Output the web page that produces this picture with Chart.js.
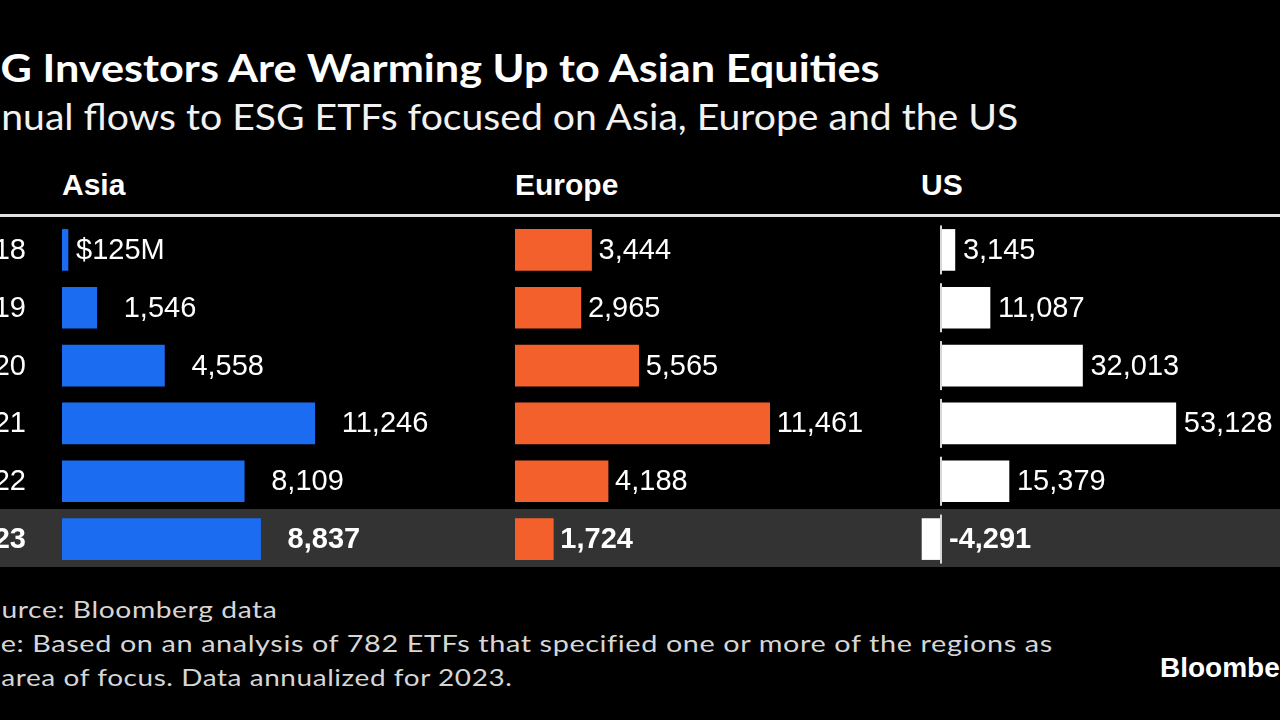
<!DOCTYPE html>
<html>
<head>
<meta charset="utf-8">
<script src="https://cdn.jsdelivr.net/npm/chart.js@4.4.0/dist/chart.umd.min.js"></script>
<style>
  body { margin: 0; background: #000; width: 1280px; height: 720px; overflow: hidden; position: relative; color: #fff; }
  .txt { position: absolute; white-space: nowrap; transform-origin: 0 0; }
  #title { font: bold 39px/1 Lato, sans-serif; top: 48px; }
  #subtitle { font: 36px/1 Lato, sans-serif; top: 98px; color: #f2f2f2; }
  .head { font: bold 30px/1 "Liberation Sans", Arial, sans-serif; top: 170px; }
  #rule { position: absolute; left: 0; top: 214px; width: 1280px; height: 3px; background: #e2e2e2; }
  #band { position: absolute; left: 0; top: 509px; width: 1280px; height: 58px; background: #333; }
  canvas { position: absolute; top: 221px; }
  .foot { font: 24px/1 Lato, sans-serif; letter-spacing: 0.5px; color: #d6d6d6; }
  #logo { font: bold 28px/1 "Liberation Sans", Arial, sans-serif; left: 1160px; top: 654px; }
</style>
</head>
<body>
<div id="title" class="txt" data-x="1" data-w="879"><span class="cut">ES</span>G Investors Are Warming Up to Asian Equities</div>
<div id="subtitle" class="txt" data-x="1" data-w="1017"><span class="cut">An</span>nual flows to ESG ETFs focused on Asia, Europe and the US</div>

<div class="txt head" style="left:62px">Asia</div>
<div class="txt head" style="left:515px">Europe</div>
<div class="txt head" style="left:921px">US</div>
<div id="rule"></div>
<div id="band"></div>

<canvas id="asiaChart" width="462" height="347" style="left:0"></canvas>
<canvas id="europeChart" width="400" height="347" style="left:515px"></canvas>
<canvas id="usChart" width="400" height="347" style="left:880px"></canvas>

<div class="txt foot" style="top:597px" data-x="1" data-w="276"><span class="cut">So</span>urce: Bloomberg data</div>
<div class="txt foot" style="top:631px" data-x="1" data-w="1052"><span class="cut">Not</span>e: Based on an analysis of 782 ETFs that specified one or more of the regions as</div>
<div class="txt foot" style="top:665px" data-x="1" data-w="511"><span class="cut">an </span>area of focus. Data annualized for 2023.</div>
<div id="logo" class="txt">Bloomberg</div>

<script>
// data (US$ millions)
const years = ['2018', '2019', '2020', '2021', '2022', '2023'];
const asiaFlows = [125, 1546, 4558, 11246, 8109, 8837];
const europeFlows = [3444, 2965, 5565, 11461, 4188, 1724];
const usFlows = [3145, 11087, 32013, 53128, 15379, -4291];
const highlightRow = 5;

// titles and footnotes are cut off on the left, like the screenshot,
// and stretched a bit to the width they have there
document.querySelectorAll('[data-x]').forEach(el => {
    const cut = el.querySelector('.cut').getBoundingClientRect().width;
    const full = el.getBoundingClientRect().width;
    const s = parseFloat(el.dataset.w) / (full - cut);
    el.style.transform = 'scaleX(' + s + ')';
    el.style.left = (parseFloat(el.dataset.x) - cut * s) + 'px';
});

const labelFont = (i) => (i === highlightRow ? 'bold ' : '') + '29px "Liberation Sans", Arial, sans-serif';
const fmt = v => v.toLocaleString('en-US');

// value labels, year labels and the zero line
const valueLabels = {
    id: 'valueLabels',
    afterDatasetsDraw(chart, args, opts) {
        const ctx = chart.ctx;
        const meta = chart.getDatasetMeta(0);
        const values = chart.data.datasets[0].data;
        ctx.save();
        ctx.fillStyle = '#fff';
        ctx.textBaseline = 'middle';
        meta.data.forEach((bar, i) => {
            if (opts.zeroLine) {
                ctx.strokeStyle = '#d8d8d8';
                ctx.lineWidth = 2;
                ctx.beginPath();
                ctx.moveTo(bar.base, bar.y - bar.height / 2 - 4);
                ctx.lineTo(bar.base, bar.y + bar.height / 2 + 4);
                ctx.stroke();
            }
            ctx.font = labelFont(i);
            ctx.textAlign = 'left';
            const gap = typeof opts.gap === 'function' ? opts.gap(i) : opts.gap;
            ctx.fillText(opts.format(values[i], i), Math.max(bar.x, bar.base) + gap, bar.y + 1);
        });
        if (opts.years) {
            const y = chart.scales.y;
            ctx.textAlign = 'right';
            chart.data.labels.forEach((year, i) => {
                ctx.font = labelFont(i);
                ctx.fillText(year, chart.chartArea.left - 36, y.getPixelForValue(i) + 1);
            });
        }
        ctx.restore();
    }
};

function makeChart(id, values, color, xMin, xMax, padLeft, labelOpts) {
    return new Chart(document.getElementById(id).getContext('2d'), {
        type: 'bar',
        data: {
            labels: years,
            datasets: [{
                data: values,
                backgroundColor: color,
                barThickness: 41,
                minBarLength: 6,
                borderWidth: 0
            }]
        },
        options: {
            indexAxis: 'y',
            responsive: false,
            animation: false,
            devicePixelRatio: 1,
            layout: { padding: { left: padLeft, right: 0, top: 0, bottom: 0 } },
            plugins: {
                legend: { display: false },
                tooltip: { enabled: false },
                valueLabels: labelOpts
            },
            scales: {
                x: { display: false, min: xMin, max: xMax },
                y: { display: false }
            }
        },
        plugins: [valueLabels]
    });
}

makeChart('asiaChart', asiaFlows, '#1c6cf2', 0, 17800, 62, {
    years: true,
    gap: i => i === 0 ? 8 : 27,
    format: (v, i) => i === 0 ? '$' + v + 'M' : fmt(v)
});
makeChart('europeChart', europeFlows, '#f4602c', 0, 18000, 0, {
    gap: 7,
    format: fmt
});
makeChart('usChart', usFlows, '#ffffff', -13800, 76700, 0, {
    gap: 8,
    zeroLine: true,
    format: fmt
});
</script>
</body>
</html>
